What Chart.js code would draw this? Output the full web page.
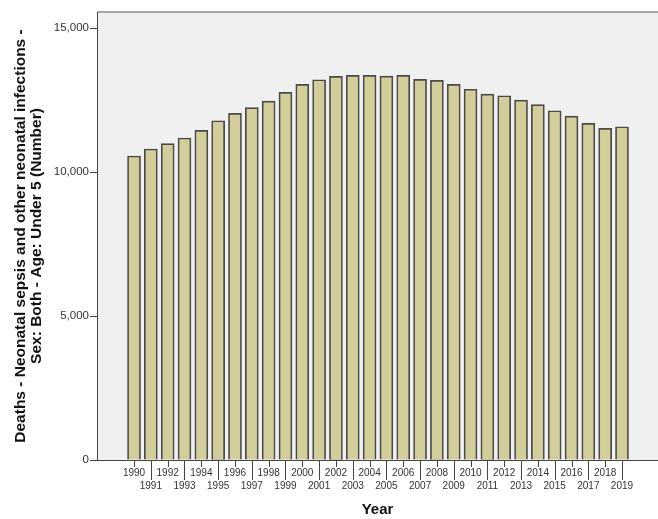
<!DOCTYPE html>
<html>
<head>
<meta charset="utf-8">
<script src="https://cdn.jsdelivr.net/npm/chart.js@4.4.0/dist/chart.umd.min.js"></script>
<style>
  html, body { margin: 0; padding: 0; background: #fff; }
  #wrap { width: 658px; height: 519px; }
</style>
</head>
<body>
<div id="wrap"><canvas id="myChart" width="658" height="519"></canvas></div>
<script>
const years = [1990, 1991, 1992, 1993, 1994, 1995, 1996, 1997, 1998, 1999,
  2000, 2001, 2002, 2003, 2004, 2005, 2006, 2007, 2008, 2009,
  2010, 2011, 2012, 2013, 2014, 2015, 2016, 2017, 2018, 2019]
const deaths = [10556, 10799, 10983, 11181, 11448, 11781, 12038, 12233, 12465, 12767,
  13045, 13205, 13323, 13358, 13358, 13333, 13358, 13219, 13184, 13045,
  12875, 12708, 12649, 12500, 12337, 12128, 11944, 11691, 11517, 11573]
const yTicks = [0, 5000, 10000, 15000]
const yTitle = ['Deaths - Neonatal sepsis and other neonatal infections -', 'Sex: Both - Age: Under 5 (Number)']
const xTitle = 'Year'

const FONT = "'Liberation Sans', Arial, sans-serif"

// grey plot panel + the staggered year ticks under the axis
const plotPanel = {
  id: 'plotPanel',
  beforeDraw (chart) {
    const { ctx, chartArea: a } = chart
    ctx.save()
    ctx.fillStyle = '#f0f0f0'
    ctx.fillRect(a.left, a.top, a.right - a.left, a.bottom - a.top)
    ctx.strokeStyle = '#8c8c8c'
    ctx.lineWidth = 1.5
    ctx.beginPath()
    ctx.moveTo(a.left, a.top)
    ctx.lineTo(a.right, a.top)
    ctx.stroke()
    ctx.restore()
  },
  afterDraw (chart) {
    const { ctx } = chart
    const sx = chart.scales.x
    ctx.save()
    ctx.strokeStyle = '#444'
    ctx.lineWidth = 1
    years.forEach((yr, i) => {
      const px = Math.round(sx.getPixelForValue(yr)) + 0.5
      const len = i % 2 ? 20 : 7
      ctx.beginPath()
      ctx.moveTo(px, sx.top)
      ctx.lineTo(px, sx.top + len)
      ctx.stroke()
    })
    ctx.restore()
  }
}

const config = {
  type: 'bar',
  data: {
    datasets: [{
      label: xTitle,
      data: years.map((yr, i) => ({ x: yr, y: deaths[i] })),
      backgroundColor: '#d3ce99',
      borderColor: '#4a4a4a',
      borderWidth: 1.7,
      barThickness: 13
    }]
  },
  options: {
    responsive: false,
    animation: false,
    layout: { padding: { top: 12, right: 0, left: 0, bottom: 0 } },
    plugins: {
      legend: { display: false },
      tooltip: { enabled: false }
    },
    scales: {
      x: {
        type: 'linear',
        offset: false,
        min: 1987.8,
        max: 2021.14,
        afterBuildTicks: s => { s.ticks = years.map(v => ({ value: v })) },
        afterFit: s => { s.height = 59 },
        grid: { display: false, drawTicks: false },
        border: { display: true, color: '#444', width: 1 },
        ticks: {
          autoSkip: false,
          maxRotation: 0,
          padding: 7,
          color: '#333',
          font: { family: FONT, size: 10, lineHeight: 1.3 },
          callback: (v, i) => i % 2 ? ['', String(v)] : [String(v), '']
        },
        title: {
          display: true,
          text: xTitle,
          color: '#111',
          padding: { top: 0, bottom: 0 },
          font: { family: FONT, size: 15, weight: 'bold' }
        }
      },
      y: {
        min: 0,
        max: 15556,
        afterBuildTicks: s => { s.ticks = yTicks.map(v => ({ value: v })) },
        afterFit: s => { s.width = 97 },
        grid: { display: true, drawOnChartArea: false, drawTicks: true, tickLength: 7, color: '#444' },
        border: { display: true, color: '#444', width: 1 },
        ticks: {
          padding: 1,
          color: '#333',
          font: { family: FONT, size: 11.5 },
          callback: v => v.toLocaleString('en-US')
        },
        title: {
          display: true,
          text: yTitle,
          color: '#111',
          padding: { top: 13, bottom: 0 },
          font: { family: FONT, size: 15.5, weight: 'bold', lineHeight: 1.04 }
        }
      }
    }
  },
  plugins: [plotPanel]
}

const myChart = new Chart(document.getElementById('myChart'), config)
</script>
</body>
</html>
